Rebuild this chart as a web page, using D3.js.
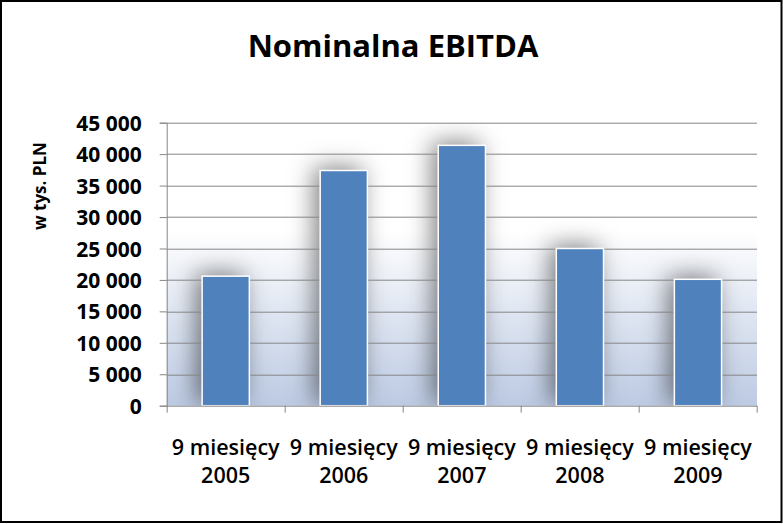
<!DOCTYPE html>
<html>
<head>
<meta charset="utf-8">
<script src="https://cdn.jsdelivr.net/npm/d3@7"></script>
<style>
  html, body { margin: 0; padding: 0; background: #fff; }
  svg { display: block; }
</style>
</head>
<body>
<svg id="chart" width="783" height="524"></svg>
<script>
const title = "Nominalna EBITDA";
const yAxisTitle = "w tys. PLN";
const categories = ["9 miesięcy\n2005", "9 miesięcy\n2006", "9 miesięcy\n2007", "9 miesięcy\n2008", "9 miesięcy\n2009"];
const values = [20600, 37400, 41400, 25000, 20100];
const yTicks = [0, 5000, 10000, 15000, 20000, 25000, 30000, 35000, 40000, 45000];

const W = 783, H = 524;
const margin = { left: 166.7, right: 26, top: 122.7, bottom: 118.3 };
const innerW = W - margin.left - margin.right;
const innerH = H - margin.top - margin.bottom;

const svg = d3.select("#chart");
const defs = svg.append("defs");

const grad = defs.append("linearGradient").attr("id", "bg").attr("x1", 0).attr("y1", 0).attr("x2", 0).attr("y2", 1);
grad.append("stop").attr("offset", "0%").attr("stop-color", "#ffffff");
grad.append("stop").attr("offset", "38%").attr("stop-color", "#ffffff");
grad.append("stop").attr("offset", "100%").attr("stop-color", "#bccae3");

const shadow = defs.append("filter").attr("id", "shadow")
  .attr("filterUnits", "userSpaceOnUse")
  .attr("x", -100).attr("y", -100).attr("width", innerW + 200).attr("height", innerH + 200);
shadow.append("feDropShadow").attr("dx", -6).attr("dy", -3).attr("stdDeviation", 12)
  .attr("flood-color", "#000").attr("flood-opacity", 0.5);

const clip = defs.append("clipPath").attr("id", "plotclip");
clip.append("rect").attr("x", 0).attr("y", 0).attr("width", innerW).attr("height", innerH);

const fmtLocale = d3.formatLocale({ decimal: ",", thousands: " ", grouping: [3], currency: ["", " zł"] });
const fmt = fmtLocale.format(",d");

const x = d3.scaleBand().domain(categories).range([0, innerW]).paddingInner(0.6).paddingOuter(0.3);
const xBoundary = d3.scaleLinear().domain([0, categories.length]).range([0, innerW]);
const y = d3.scaleLinear().domain([0, 45000]).range([innerH, 0]);

const g = svg.append("g").attr("transform", `translate(${margin.left},${margin.top})`);

// plot background
g.append("rect").attr("x", 0).attr("y", 0).attr("width", innerW).attr("height", innerH).attr("fill", "url(#bg)");

// shadows (clipped to the plot)
g.append("g").attr("clip-path", "url(#plotclip)")
  .selectAll("rect").data(values).join("rect")
  .attr("x", (d, i) => x(categories[i]))
  .attr("y", d => y(d))
  .attr("width", x.bandwidth())
  .attr("height", d => innerH - y(d))
  .attr("fill", "#fff")
  .attr("filter", "url(#shadow)");

// gridlines
g.append("g").selectAll("line").data(yTicks.filter(t => t > 0)).join("line")
  .attr("x1", 0).attr("x2", innerW)
  .attr("y1", d => Math.round(y(d)) + 0.5).attr("y2", d => Math.round(y(d)) + 0.5)
  .attr("stroke", "#868686").attr("stroke-width", 1);

// bars
g.append("g").selectAll("rect").data(values).join("rect")
  .attr("x", (d, i) => x(categories[i]))
  .attr("y", d => y(d))
  .attr("width", x.bandwidth())
  .attr("height", d => innerH - y(d))
  .attr("fill", "#4f81bd")
  .attr("stroke", "#ffffff")
  .attr("stroke-width", 1.5);

// y axis
const yAxis = d3.axisLeft(y).tickValues(yTicks).tickFormat(fmt).tickSize(7).tickPadding(18);
const yg = g.append("g").attr("class", "yaxis").call(yAxis);
yg.select(".domain").attr("stroke", "#868686");
yg.selectAll(".tick line").attr("stroke", "#868686");
yg.selectAll(".tick text")
  .attr("font-family", "'Open Sans', sans-serif")
  .attr("font-weight", "bold")
  .attr("font-size", 21)
  .attr("fill", "#000")
  .attr("dy", "0.36em");

// x axis
const xg = g.append("g").attr("transform", `translate(0,${innerH})`);
xg.append("line").attr("x1", 0).attr("x2", innerW).attr("y1", 0.5).attr("y2", 0.5).attr("stroke", "#868686");
xg.selectAll("line.tk").data(d3.range(categories.length + 1)).join("line").attr("class", "tk")
  .attr("x1", d => Math.round(xBoundary(d)) + 0.5).attr("x2", d => Math.round(xBoundary(d)) + 0.5)
  .attr("y1", 0).attr("y2", 7).attr("stroke", "#868686");

const labels = xg.selectAll("text").data(categories).join("text")
  .attr("x", d => x(d) + x.bandwidth() / 2)
  .attr("y", 49)
  .attr("text-anchor", "middle")
  .attr("font-family", "'Open Sans', sans-serif")
  .attr("font-weight", 600)
  .attr("font-size", 21.5)
  .attr("fill", "#000");
labels.selectAll("tspan").data(d => d.split("\n")).join("tspan")
  .attr("x", function () { return d3.select(this.parentNode).attr("x"); })
  .attr("dy", (d, i) => i === 0 ? 0 : 28)
  .text(d => d);

// y axis title
svg.append("text")
  .attr("transform", `translate(46,186) rotate(-90)`)
  .attr("text-anchor", "middle")
  .attr("font-family", "'Open Sans', sans-serif")
  .attr("font-weight", "bold")
  .attr("font-size", 17)
  .attr("fill", "#000")
  .text(yAxisTitle);

// chart title
svg.append("text")
  .attr("x", 393).attr("y", 57)
  .attr("text-anchor", "middle")
  .attr("font-family", "'Open Sans', sans-serif")
  .attr("font-weight", "bold")
  .attr("font-size", 31)
  .attr("fill", "#000")
  .text(title);

// outer border
svg.append("rect").attr("x", 1).attr("y", 1).attr("width", W - 2.5).attr("height", H - 3)
  .attr("fill", "none").attr("stroke", "#000").attr("stroke-width", 2);
</script>
</body>
</html>
